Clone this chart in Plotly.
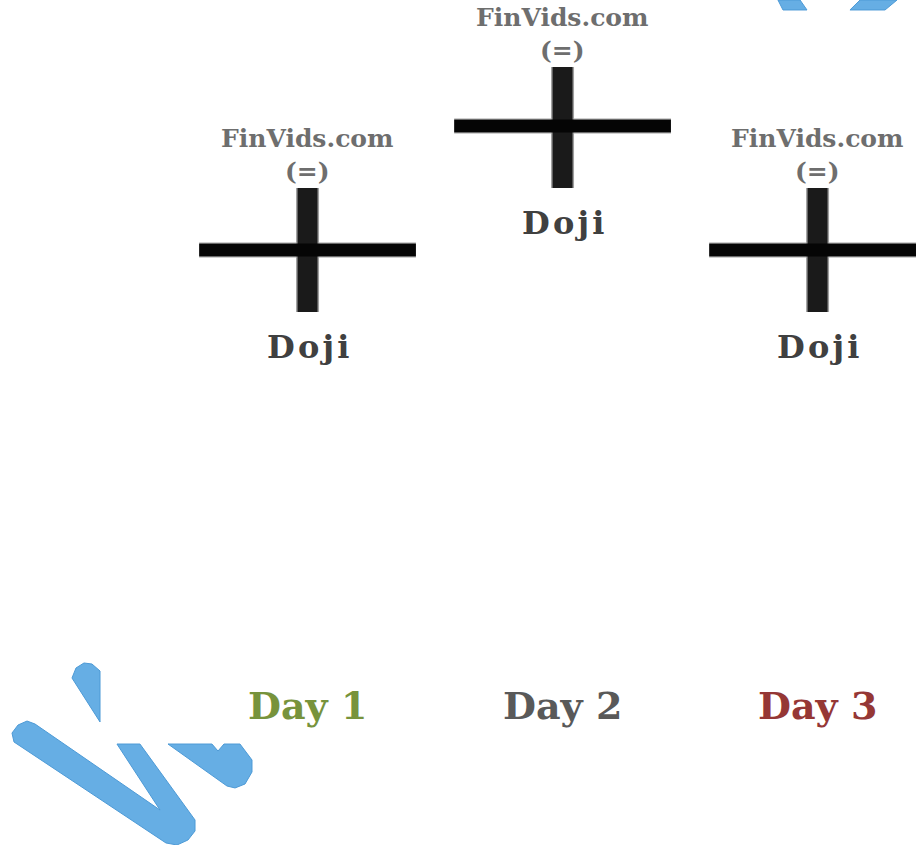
import plotly.graph_objects as go

# doji candles (open == close)
days = [1, 2, 3]
day_labels = ["Day 1", "Day 2", "Day 3"]
day_colors = ["#77933c", "#595959", "#953735"]
open_p = [100, 102, 100]
close_p = [100, 102, 100]
high_p = [101, 102.95, 101]
low_p = [99, 101, 99]
pattern = ["Doji", "Doji", "Doji"]
source = "FinVids.com"
sign = "(=)"

W, H = 916, 845
half = 0.425  # half width of the open/close bar

fig = go.Figure()

# wick + body as line segments
wx, wy, bx, by = [], [], [], []
for d, o, c, hi, lo in zip(days, open_p, close_p, high_p, low_p):
    wx += [d, d, None]
    wy += [lo, hi, None]
    bx += [d - half, d + half, None]
    by += [o, c, None]

fig.add_trace(go.Scatter(x=bx, y=by, mode="lines", line=dict(color="#d0d0d0", width=16), hoverinfo="skip"))
fig.add_trace(go.Scatter(x=wx, y=wy, mode="lines", line=dict(color="#a0a0a0", width=23), hoverinfo="skip"))
fig.add_trace(go.Scatter(x=wx, y=wy, mode="lines", line=dict(color="#1a1a1a", width=20), hoverinfo="skip"))
fig.add_trace(go.Scatter(x=bx, y=by, mode="lines", line=dict(color="#050505", width=13), hoverinfo="skip"))

grey_font = dict(family="DejaVu Serif", size=25, color="#6e6e6e")
for d, hi, lo, p, lab, col in zip(days, high_p, low_p, pattern, day_labels, day_colors):
    fig.add_annotation(x=d, y=hi, text="<b>" + source + "</b>", showarrow=False,
                       yanchor="middle", yshift=50, font=grey_font)
    fig.add_annotation(x=d, y=hi, text="<b>" + sign + "</b>", showarrow=False,
                       yanchor="middle", yshift=17, font=grey_font)
    fig.add_annotation(x=d, y=lo, text="<b>" + "\u200a".join(p) + "</b>", showarrow=False,
                       yanchor="middle", yshift=-35,
                       font=dict(family="DejaVu Serif", size=32, color="#404040"))
    fig.add_annotation(x=d, y=1 - 705 / H, yref="paper", text="<b>" + lab + "</b>", showarrow=False,
                       yanchor="middle", font=dict(family="DejaVu Serif", size=38, color=col))


# watermark pieces (pixel outlines -> paper coords)
def path(pts):
    s = "M " + " L ".join(f"{x / W:.4f},{1 - y / H:.4f}" for x, y in pts) + " Z"
    return s


marks = [
    [(72, 678), (76, 668), (84, 663), (92, 664), (100, 671), (100, 722)],
    [(14, 742), (12, 733), (18, 725), (27, 721), (35, 724), (160, 810), (117, 744), (140, 744),
     (195, 820), (195, 831), (188, 840), (177, 845), (166, 843)],
    [(168, 744), (212, 744), (218, 751), (224, 744), (240, 744), (252, 760), (252, 772),
     (245, 784), (235, 788), (227, 786)],
    [(778, 0), (800, 0), (807, 10), (783, 10)],
    [(860, 0), (897, 0), (885, 10), (850, 10)],
]
for m in marks:
    fig.add_shape(type="path", path=path(m), xref="paper", yref="paper",
                  fillcolor="#66aee4", line=dict(color="#4d9ad6", width=1), layer="above")

fig.update_xaxes(range=[-0.206, 3.386], visible=False, fixedrange=True)
fig.update_yaxes(range=[100 - 595 / 62, 100 + 250 / 62], visible=False, fixedrange=True)
fig.update_layout(width=W, height=H, margin=dict(l=0, r=0, t=0, b=0),
                  plot_bgcolor="white", paper_bgcolor="white", showlegend=False)

fig.write_html("out.html", config={"displayModeBar": False},
               post_script="document.body.style.margin='0';document.body.style.overflow='hidden';")
